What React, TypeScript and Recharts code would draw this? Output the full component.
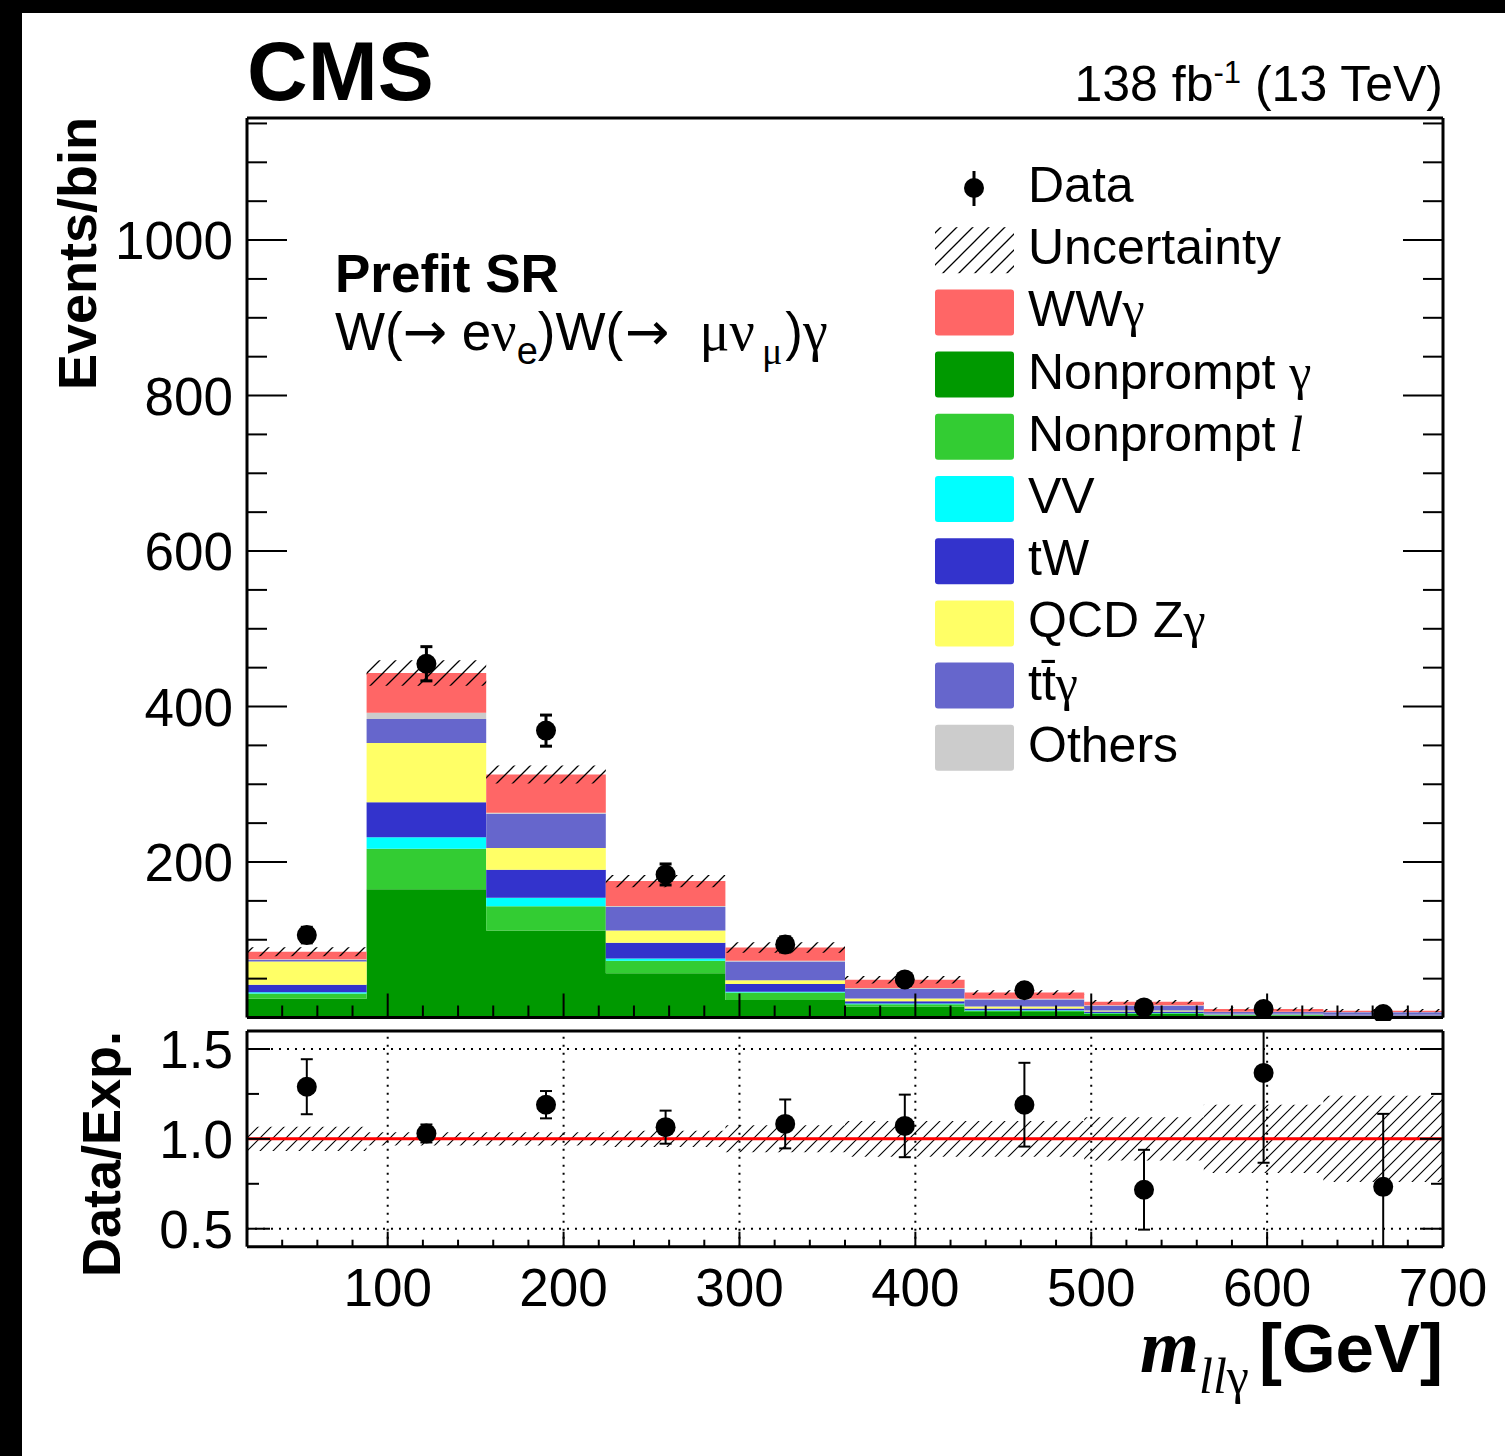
import React from 'react';
import { ComposedChart, Area, Scatter, ErrorBar, XAxis, YAxis, ReferenceLine } from 'recharts';

// binning of m_llγ (GeV)
const binEdges = [20, 88, 156, 224, 292, 360, 428, 496, 564, 632, 700];
const binCenters = [54, 122, 190, 258, 326, 394, 462, 530, 598, 666];

// prefit expectations per bin
const nonpromptPhoton = [24, 165, 112, 57, 22.5, 14, 7, 4.5, 2.5, 1.5];
const nonpromptLepton = [7, 52, 31, 16, 9.5, 3, 1.7, 1, 0.7, 0.4];
const vvBkg = [1.5, 15, 11, 3, 1, 1, 0.5, 0.3, 0.2, 0.1];
const twBkg = [9.5, 45, 36, 20, 10, 3, 2.5, 1.8, 0.8, 0.8];
const qcdZgBkg = [30, 76, 28, 16, 5, 3.5, 2.5, 1.5, 0.7, 0.6];
const ttgBkg = [2, 31, 44, 30, 24, 12, 9, 6, 2.3, 3.5];
const otherBkg = [1, 8, 1.5, 1.5, 1, 1.5, 0.8, 0.5, 0.3, 0.2];
const wwgSignal = [9.5, 51, 49, 32, 17, 10.5, 8, 4.5, 3.3, 1.7];

const dataCounts = [106, 455, 369, 184, 94, 49, 35, 13, 11, 4.5];
const dataErrors = [10, 22, 20, 13.5, 9.7, 7, 6, 3.6, 3.3, 2.1];

// relative uncertainty of the expectation, and the ratio panel points
const relUncertainty = [0.068, 0.037, 0.037, 0.045, 0.075, 0.1, 0.1, 0.12, 0.19, 0.24];
const ratioValues = [1.29, 1.03, 1.19, 1.065, 1.083, 1.072, 1.19, 0.717, 1.367, 0.733];
const ratioErrors = [0.153, 0.05, 0.076, 0.092, 0.136, 0.174, 0.233, 0.222, 0.5, 0.406];

const xMajorTicks = [100, 200, 300, 400, 500, 600, 700];
const yMajorTicksMain = [200, 400, 600, 800, 1000];
const yMajorTicksRatio = [0.5, 1.0, 1.5];
const yMinorTicksRatio = [0.75, 1.25];
const ratioGridX = [100, 200, 300, 400, 500, 600];
const ratioGridY = [0.5, 1.5];
const ratioRange = [0.4, 1.6];

const SANS = '"Liberation Sans", Arial, Helvetica, sans-serif';
const SERIF = '"Liberation Serif", "Times New Roman", serif';
const ARROW = '"DejaVu Sans", sans-serif';

// stack order, bottom to top
const series = [
  { key: 'npg', label: 'Nonprompt ', sym: 'γ', color: '#009900', values: nonpromptPhoton },
  { key: 'npl', label: 'Nonprompt ', sym: 'l', italic: true, color: '#33cc33', values: nonpromptLepton },
  { key: 'vv', label: 'VV', color: '#00ffff', values: vvBkg },
  { key: 'tw', label: 'tW', color: '#3333cc', values: twBkg },
  { key: 'qcd', label: 'QCD Z', sym: 'γ', color: '#ffff66', values: qcdZgBkg },
  { key: 'ttg', label: 'tt\u0304', sym: 'γ', color: '#6666cc', values: ttgBkg },
  { key: 'oth', label: 'Others', color: '#cccccc', values: otherBkg },
  { key: 'wwg', label: 'WW', sym: 'γ', color: '#ff6666', values: wwgSignal },
];
const legendSeries = [series[series.length - 1], ...series.slice(0, series.length - 1)];

const xMinorTicks: number[] = [];
for (let v = 40; v <= 680; v += 20) if (v % 100 !== 0) xMinorTicks.push(v);
const xTicks = [...xMinorTicks, ...xMajorTicks].sort((a, b) => a - b);
const yTicksMain: number[] = [];
for (let v = 50; v <= 1150; v += 50) yTicksMain.push(v);
const yTicksRatio = [...yMajorTicksRatio, ...yMinorTicksRatio].sort((a, b) => a - b);

// step-histogram rows: one per bin edge, last edge repeats the last bin
const stackRows = binEdges.map((x, i) => {
  const j = Math.min(i, binCenters.length - 1);
  const row: Record<string, any> = { x };
  let total = 0;
  series.forEach((s) => {
    row[s.key] = s.values[j];
    total += s.values[j];
  });
  row.band = [total * (1 - relUncertainty[j]), total * (1 + relUncertainty[j])];
  return row;
});

const ratioRows = binEdges.map((x, i) => {
  const j = Math.min(i, binCenters.length - 1);
  return { x, band: [1 - relUncertainty[j], 1 + relUncertainty[j]] };
});

const dataPoints = binCenters.map((x, i) => ({ x, y: dataCounts[i], err: dataErrors[i] }));
// error bars stop at the panel frame, as in the original
const ratioPoints = binCenters.map((x, i) => ({
  x,
  y: ratioValues[i],
  err: [
    Math.min(ratioErrors[i], ratioValues[i] - ratioRange[0]),
    Math.min(ratioErrors[i], ratioRange[1] - ratioValues[i]),
  ],
}));

const frame = { stroke: '#000', strokeWidth: 3 };

const xTick =
  (majors: number[], majorLen: number, minorLen: number, dir: number, withLabel: boolean) =>
  (props: any) => {
    const { x, y, payload } = props;
    const major = majors.includes(payload.value);
    const len = major ? majorLen : minorLen;
    return (
      <g>
        <line x1={x} x2={x} y1={y} y2={y + dir * len} stroke='#000' strokeWidth={2} />
        {withLabel && major ? (
          <text x={x} y={y + 59} textAnchor='middle' fontSize={53} fontFamily={SANS} fill='#000'>
            {payload.value}
          </text>
        ) : null}
      </g>
    );
  };

const yTick =
  (majors: number[], majorLen: number, minorLen: number, dir: number, fmt: ((v: number) => string) | null) =>
  (props: any) => {
    const { x, y, payload } = props;
    const major = majors.includes(payload.value);
    const len = major ? majorLen : minorLen;
    return (
      <g>
        <line x1={x} x2={x + dir * len} y1={y} y2={y} stroke='#000' strokeWidth={2} />
        {fmt && major ? (
          <text x={x - 14} y={y + 19} textAnchor='end' fontSize={53} fontFamily={SANS} fill='#000'>
            {fmt(payload.value)}
          </text>
        ) : null}
      </g>
    );
  };

const dot = (props: any) => <circle cx={props.cx} cy={props.cy} r={10} fill='#000' />;

// axes get 1px boxes (a 0px box is not drawn), the margins absorb that pixel
const MainPanel = () => (
  <ComposedChart
    width={1505}
    height={1021}
    data={stackRows}
    margin={{ top: 117, right: 61, bottom: 2.5, left: 246 }}
  >
    {series.map((s) => (
      <Area
        key={s.key}
        xAxisId='b'
        yAxisId='l'
        dataKey={s.key}
        stackId='mc'
        type='stepAfter'
        fill={s.color}
        fillOpacity={1}
        stroke='none'
        isAnimationActive={false}
      />
    ))}
    <Area
      xAxisId='b'
      yAxisId='l'
      dataKey='band'
      type='stepAfter'
      fill='url(#hatchMain)'
      fillOpacity={1}
      stroke='none'
      isAnimationActive={false}
    />
    <Scatter xAxisId='b' yAxisId='l' data={dataPoints} dataKey='y' shape={dot} isAnimationActive={false}>
      <ErrorBar dataKey='err' direction='y' stroke='#000' strokeWidth={3} width={6} />
    </Scatter>
    <XAxis
      xAxisId='b'
      dataKey='x'
      type='number'
      domain={[20, 700]}
      ticks={xTicks}
      interval={0}
      height={1}
      tickSize={0}
      tickMargin={0}
      tickLine={false}
      axisLine={frame}
      tick={xTick(xMajorTicks, 24, 12, -1, false)}
    />
    <XAxis
      xAxisId='t'
      orientation='top'
      type='number'
      domain={[20, 700]}
      allowDataOverflow
      ticks={xTicks}
      interval={0}
      height={1}
      tickSize={0}
      tickMargin={0}
      tickLine={false}
      axisLine={frame}
      tick={xTick(xMajorTicks, 24, 12, 1, false)}
    />
    <YAxis
      yAxisId='l'
      type='number'
      domain={[0, 1157]}
      ticks={yTicksMain}
      interval={0}
      width={1}
      tickSize={0}
      tickMargin={0}
      tickLine={false}
      axisLine={frame}
      tick={yTick(yMajorTicksMain, 40, 20, 1, (v) => String(v))}
    />
    <YAxis
      yAxisId='r'
      orientation='right'
      type='number'
      domain={[0, 1157]}
      allowDataOverflow
      ticks={yTicksMain}
      interval={0}
      width={1}
      tickSize={0}
      tickMargin={0}
      tickLine={false}
      axisLine={frame}
      tick={yTick(yMajorTicksMain, 40, 20, -1, null)}
    />
  </ComposedChart>
);

const RatioPanel = () => (
  <ComposedChart
    width={1505}
    height={435}
    data={ratioRows}
    margin={{ top: 9, right: 61, bottom: 208.3, left: 246 }}
  >
    {ratioGridX.map((v) => (
      <ReferenceLine key={'gx' + v} xAxisId='b' yAxisId='l' x={v} stroke='#000' strokeWidth={2} strokeDasharray='2 6' />
    ))}
    {ratioGridY.map((v) => (
      <ReferenceLine key={'gy' + v} xAxisId='b' yAxisId='l' y={v} stroke='#000' strokeWidth={2} strokeDasharray='2 6' />
    ))}
    <Area
      xAxisId='b'
      yAxisId='l'
      dataKey='band'
      type='stepAfter'
      fill='url(#hatchRatio)'
      fillOpacity={1}
      stroke='none'
      isAnimationActive={false}
    />
    <ReferenceLine xAxisId='b' yAxisId='l' y={1} stroke='#ff0000' strokeWidth={3} />
    <Scatter xAxisId='b' yAxisId='l' data={ratioPoints} dataKey='y' shape={dot} isAnimationActive={false}>
      <ErrorBar dataKey='err' direction='y' stroke='#000' strokeWidth={2} width={6} />
    </Scatter>
    <XAxis
      xAxisId='b'
      dataKey='x'
      type='number'
      domain={[20, 700]}
      ticks={xTicks}
      interval={0}
      height={1}
      tickSize={0}
      tickMargin={0}
      tickLine={false}
      axisLine={frame}
      tick={xTick(xMajorTicks, 15, 7, -1, true)}
    />
    <XAxis
      xAxisId='t'
      orientation='top'
      type='number'
      domain={[20, 700]}
      allowDataOverflow
      ticks={xTicks}
      interval={0}
      height={1}
      tickSize={0}
      tickMargin={0}
      tickLine={false}
      axisLine={frame}
      tick={xTick(xMajorTicks, 15, 7, 1, false)}
    />
    <YAxis
      yAxisId='l'
      type='number'
      domain={ratioRange}
      allowDataOverflow
      ticks={yTicksRatio}
      interval={0}
      width={1}
      tickSize={0}
      tickMargin={0}
      tickLine={false}
      axisLine={frame}
      tick={yTick(yMajorTicksRatio, 23, 12, 1, (v) => v.toFixed(1))}
    />
    <YAxis
      yAxisId='r'
      orientation='right'
      type='number'
      domain={ratioRange}
      allowDataOverflow
      ticks={yTicksRatio}
      interval={0}
      width={1}
      tickSize={0}
      tickMargin={0}
      tickLine={false}
      axisLine={frame}
      tick={yTick(yMajorTicksRatio, 23, 12, -1, null)}
    />
  </ComposedChart>
);

const Annotations = () => {
  const rowY = (i: number) => 188 + i * 62.2;
  return (
    <svg
      width={1505}
      height={1456}
      style={{ position: 'absolute', left: 0, top: 0, pointerEvents: 'none' }}
      fontFamily={SANS}
    >
      <text x={247} y={100} fontSize={84} fontWeight='bold'>CMS</text>
      <text x={1443} y={101} fontSize={50} textAnchor='end'>
        138 fb<tspan dy={-18} fontSize={31}>-1</tspan>
        <tspan dy={18}> (13 TeV)</tspan>
      </text>
      <text x={335} y={292} fontSize={53} fontWeight='bold'>Prefit SR</text>
      <text x={335} y={350} fontSize={53}>
        W(<tspan fontFamily={ARROW}>→</tspan> e<tspan fontFamily={SERIF} fontSize={56}>ν</tspan>
        <tspan dy={14} fontSize={38}>e</tspan>
        <tspan dy={-14}>)W(</tspan>
        <tspan fontFamily={ARROW} dx={2}>→</tspan>
        <tspan fontFamily={SERIF} fontSize={56} dx={30}>μν</tspan>
        <tspan dy={14} fontSize={38} fontFamily={SERIF} dx={7}>μ</tspan>
        <tspan dy={-14} dx={3}>)</tspan>
        <tspan fontFamily={SERIF} fontSize={56}>γ</tspan>
      </text>
      <text transform='translate(96,117) rotate(-90)' textAnchor='end' fontSize={54} fontWeight='bold'>
        Events/bin
      </text>
      <text transform='translate(120,1031) rotate(-90)' textAnchor='end' fontSize={54} fontWeight='bold'>
        Data/Exp.
      </text>
      <text x={1443} y={1372} textAnchor='end'>
        <tspan fontFamily={SERIF} fontStyle='italic' fontWeight='bold' fontSize={76}>m</tspan>
        <tspan fontFamily={SERIF} fontStyle='italic' fontSize={50} dy={21}>ll</tspan>
        <tspan fontFamily={SERIF} fontSize={50}>γ</tspan>
        <tspan fontWeight='bold' fontSize={69} dy={-21} dx={10}>[GeV]</tspan>
      </text>

      {/* legend */}
      <line x1={974} x2={974} y1={rowY(0) - 17} y2={rowY(0) + 18} stroke='#000' strokeWidth={3} />
      <circle cx={974} cy={rowY(0)} r={10} fill='#000' />
      <text x={1028} y={rowY(0) + 14} fontSize={50}>Data</text>
      <rect x={935} y={rowY(1) - 23} width={79} height={46} fill='url(#hatchMain)' />
      <text x={1028} y={rowY(1) + 14} fontSize={50}>Uncertainty</text>
      {legendSeries.map((s, i) => (
        <g key={s.key}>
          <rect x={935} y={rowY(i + 2) - 23} width={79} height={46} rx={3} fill={s.color} />
          <text x={1028} y={rowY(i + 2) + 14} fontSize={50}>
            {s.label}
            {s.sym ? (
              <tspan fontFamily={SERIF} fontStyle={s.italic ? 'italic' : 'normal'}>
                {s.sym}
              </tspan>
            ) : null}
          </text>
        </g>
      ))}
    </svg>
  );
};

export default function App() {
  return (
    <div style={{ position: 'absolute', left: 0, top: 0, width: 1505, height: 1456, background: '#000' }}>
      <svg width={0} height={0} style={{ position: 'absolute' }}>
        <defs>
          <pattern id='hatchMain' patternUnits='userSpaceOnUse' width={16} height={16}>
            <path d='M0,16 L16,0 M-4,4 L4,-4 M12,20 L20,12' stroke='#000' strokeWidth={1.3} />
          </pattern>
          <pattern id='hatchRatio' patternUnits='userSpaceOnUse' width={13} height={13}>
            <path d='M0,13 L13,0 M-4,4 L4,-4 M9,17 L17,9' stroke='#000' strokeWidth={1.1} />
          </pattern>
        </defs>
      </svg>
      <div
        style={{
          position: 'absolute',
          left: 22,
          top: 13,
          width: 1483,
          height: 1443,
          background: '#fff',
        }}
      />
      <div style={{ position: 'absolute', left: 0, top: 0 }}>
        <MainPanel />
      </div>
      <div style={{ position: 'absolute', left: 0, top: 1021 }}>
        <RatioPanel />
      </div>
      <Annotations />
    </div>
  );
}
